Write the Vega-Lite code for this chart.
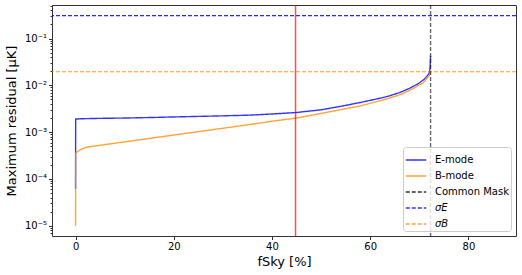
{
  "$schema": "https://vega.github.io/schema/vega-lite/v6.json",
  "width": 464,
  "height": 231,
  "autosize": {"type": "none"},
  "padding": {"left": 52, "top": 5, "right": 6, "bottom": 39},
  "config": {
    "view": {"stroke": "#333333", "strokeWidth": 1},
    "font": "DejaVu Sans",
    "axis": {
      "domain": false, "grid": false, "labelFont": "DejaVu Sans", "labelFontSize": 10, "labelColor": "#000000",
      "titleFont": "DejaVu Sans", "titleFontSize": 13, "titleFontWeight": "normal", "titleColor": "#000000",
      "tickColor": "#333333", "tickSize": 3.5, "labelPadding": 2
    },
    "legend": {
      "orient": "bottom-right", "offset": 5, "symbolType": "stroke", "symbolSize": 420, "symbolStrokeWidth": 1.3,
      "symbolOpacity": 0.8, "labelFont": "DejaVu Sans", "labelFontSize": 10, "labelColor": "#000000", "labelOffset": 8,
      "padding": 2, "strokeColor": "#cccccc", "fillColor": "rgba(255,255,255,0.8)", "cornerRadius": 3, "rowPadding": -0.6
    }
  },
  "datasets": {
    "curves": [
      {"x": 0, "y": 6.2e-5, "s": "E-mode"},
      {"x": 0.02, "y": 1.9e-3, "s": "E-mode"},
      {"x": 1, "y": 1.93e-3, "s": "E-mode"},
      {"x": 3, "y": 1.95e-3, "s": "E-mode"},
      {"x": 5, "y": 1.97e-3, "s": "E-mode"},
      {"x": 10, "y": 2.0e-3, "s": "E-mode"},
      {"x": 15, "y": 2.05e-3, "s": "E-mode"},
      {"x": 20, "y": 2.11e-3, "s": "E-mode"},
      {"x": 25, "y": 2.17e-3, "s": "E-mode"},
      {"x": 30, "y": 2.23e-3, "s": "E-mode"},
      {"x": 35, "y": 2.3e-3, "s": "E-mode"},
      {"x": 40, "y": 2.44e-3, "s": "E-mode"},
      {"x": 45, "y": 2.63e-3, "s": "E-mode"},
      {"x": 50, "y": 3.0e-3, "s": "E-mode"},
      {"x": 54, "y": 3.56e-3, "s": "E-mode"},
      {"x": 58, "y": 4.3e-3, "s": "E-mode"},
      {"x": 62, "y": 5.3e-3, "s": "E-mode"},
      {"x": 64, "y": 6.0e-3, "s": "E-mode"},
      {"x": 66, "y": 7.0e-3, "s": "E-mode"},
      {"x": 68, "y": 8.6e-3, "s": "E-mode"},
      {"x": 69, "y": 9.8e-3, "s": "E-mode"},
      {"x": 70, "y": 1.12e-2, "s": "E-mode"},
      {"x": 71, "y": 1.35e-2, "s": "E-mode"},
      {"x": 71.6, "y": 1.58e-2, "s": "E-mode"},
      {"x": 72.0, "y": 1.8e-2, "s": "E-mode"},
      {"x": 72.2, "y": 2.3e-2, "s": "E-mode"},
      {"x": 72.3, "y": 4.3e-2, "s": "E-mode"},
      {"x": 0, "y": 1.0e-5, "s": "B-mode"},
      {"x": 0.02, "y": 3.56e-4, "s": "B-mode"},
      {"x": 0.5, "y": 3.9e-4, "s": "B-mode"},
      {"x": 1, "y": 4.2e-4, "s": "B-mode"},
      {"x": 2, "y": 4.7e-4, "s": "B-mode"},
      {"x": 3.2, "y": 4.93e-4, "s": "B-mode"},
      {"x": 10, "y": 6.19e-4, "s": "B-mode"},
      {"x": 20, "y": 8.67e-4, "s": "B-mode"},
      {"x": 30, "y": 1.21e-3, "s": "B-mode"},
      {"x": 37.5, "y": 1.56e-3, "s": "B-mode"},
      {"x": 40, "y": 1.71e-3, "s": "B-mode"},
      {"x": 45, "y": 2.0e-3, "s": "B-mode"},
      {"x": 50, "y": 2.51e-3, "s": "B-mode"},
      {"x": 54, "y": 3.02e-3, "s": "B-mode"},
      {"x": 58, "y": 3.64e-3, "s": "B-mode"},
      {"x": 62, "y": 4.68e-3, "s": "B-mode"},
      {"x": 64, "y": 5.37e-3, "s": "B-mode"},
      {"x": 66, "y": 6.25e-3, "s": "B-mode"},
      {"x": 68, "y": 7.76e-3, "s": "B-mode"},
      {"x": 69, "y": 8.9e-3, "s": "B-mode"},
      {"x": 70, "y": 1.02e-2, "s": "B-mode"},
      {"x": 70.7, "y": 1.1e-2, "s": "B-mode"},
      {"x": 71.5, "y": 1.38e-2, "s": "B-mode"},
      {"x": 72.1, "y": 1.62e-2, "s": "B-mode"},
      {"x": 72.3, "y": 2.0e-2, "s": "B-mode"}
    ],
    "hlines": [
      {"y": 0.31, "s": "σE"},
      {"y": 0.0195, "s": "σB"}
    ],
    "vmask": [
      {"x": 72.3, "s": "Common Mask"}
    ],
    "vred": [
      {"x": 44.8}
    ]
  },
  "encoding": {},
  "layer": [
    {
      "data": {"name": "curves"},
      "mark": {"type": "line", "strokeWidth": 1.4, "opacity": 0.8},
      "encoding": {
        "x": {"field": "x", "type": "quantitative", "scale": {"domain": [-4.8, 89.7], "nice": false, "zero": false},
              "axis": {"values": [0, 20, 40, 60, 80], "title": "fSky [%]", "titlePadding": 4}},
        "y": {"field": "y", "type": "quantitative",
              "scale": {"type": "log", "domain": [6.03e-6, 0.521], "nice": false},
              "axis": {"title": "Maximum residual [μK]", "titlePadding": 6, "labelOverlap": false,
                "values": [7e-6, 8e-6, 9e-6, 1e-5, 2e-5, 3e-5, 4e-5, 5e-5, 6e-5, 7e-5, 8e-5, 9e-5, 1e-4, 2e-4, 3e-4, 4e-4, 5e-4, 6e-4, 7e-4, 8e-4, 9e-4, 1e-3, 2e-3, 3e-3, 4e-3, 5e-3, 6e-3, 7e-3, 8e-3, 9e-3, 1e-2, 2e-2, 3e-2, 4e-2, 5e-2, 6e-2, 7e-2, 8e-2, 9e-2, 0.1, 0.2, 0.3, 0.4, 0.5],
                "labelExpr": "abs(log(datum.value)/LN10 - round(log(datum.value)/LN10)) > 0.001 ? '' : datum.value > 0.05 ? '10⁻¹' : datum.value > 0.005 ? '10⁻²' : datum.value > 0.0005 ? '10⁻³' : datum.value > 0.00005 ? '10⁻⁴' : '10⁻⁵'",
                "tickSize": {"condition": {"test": "abs(log(datum.value)/LN10 - round(log(datum.value)/LN10)) > 0.001", "value": 2}, "value": 3.5}}},
        "color": {"field": "s", "type": "nominal",
          "scale": {"domain": ["E-mode", "B-mode", "Common Mask", "σE", "σB"], "range": ["#0000ff", "#ff8c00", "#000000", "#0000ff", "#ff8c00"]},
          "legend": {"title": null, "encode": {"labels": {"update": {"fontStyle": {"signal": "indexof(datum.label, 'σ') >= 0 ? 'italic' : 'normal'"}}}}}},
        "strokeDash": {"field": "s", "type": "nominal",
          "scale": {"domain": ["E-mode", "B-mode", "Common Mask", "σE", "σB"], "range": [[1, 0], [1, 0], [4, 2], [4, 2], [4, 2]]},
          "legend": {"title": null}}
      }
    },
    {
      "data": {"name": "hlines"},
      "mark": {"type": "rule", "strokeWidth": 1.2, "opacity": 0.85},
      "encoding": {
        "y": {"field": "y", "type": "quantitative"},
        "color": {"field": "s", "type": "nominal"},
        "strokeDash": {"field": "s", "type": "nominal"}
      }
    },
    {
      "data": {"name": "vmask"},
      "mark": {"type": "rule", "strokeWidth": 1.4, "opacity": 0.6},
      "encoding": {
        "x": {"field": "x", "type": "quantitative"},
        "color": {"field": "s", "type": "nominal"},
        "strokeDash": {"field": "s", "type": "nominal"}
      }
    },
    {
      "data": {"name": "vred"},
      "mark": {"type": "rule", "strokeWidth": 1.5, "color": "#ff0000", "opacity": 0.7},
      "encoding": {
        "x": {"field": "x", "type": "quantitative"}
      }
    }
  ]
}
